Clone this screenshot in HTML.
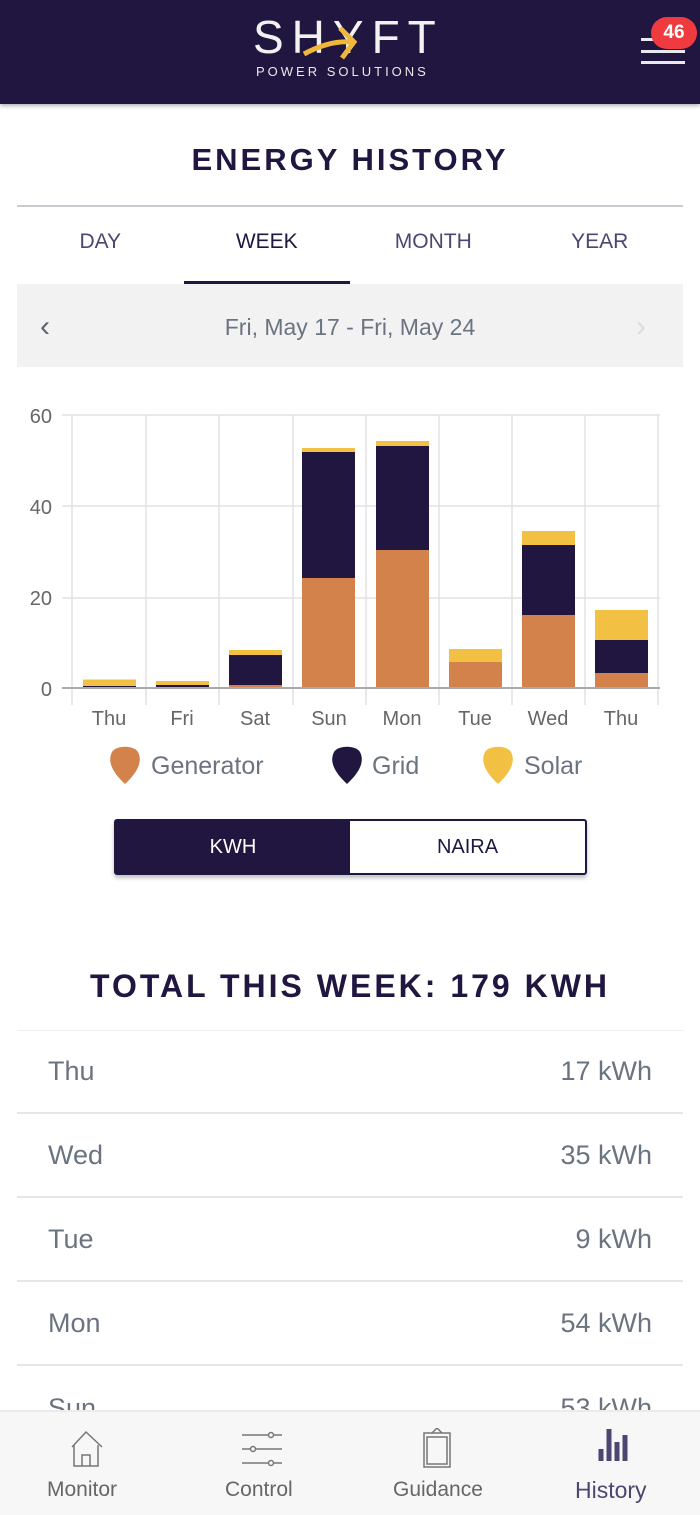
<!DOCTYPE html>
<html><head><meta charset="utf-8"><style>
*{margin:0;padding:0;box-sizing:border-box}
body{width:700px;height:1515px;overflow:hidden;background:#fff;font-family:"Liberation Sans",sans-serif;position:relative;color:#201640}
.abs{position:absolute}
</style></head><body>
<div class="abs" style="left:0;top:0;width:700px;height:104px;background:#201640;box-shadow:0 2px 4px rgba(0,0,0,.3)"></div>
<div class="abs" style="left:253px;top:14px;font-size:46px;color:#f2f2f2;letter-spacing:8px;line-height:46px">SHYFT</div>
<svg class="abs" style="left:300px;top:22px" width="60" height="40"><path d="M4 32 Q30 18 52 20" stroke="#f0b73a" stroke-width="5" fill="none"/><path d="M40 6 L54 20 L42 36" stroke="#f0b73a" stroke-width="5" fill="none"/></svg>
<div class="abs" style="left:256px;top:64px;font-size:13px;color:#e8e8e8;letter-spacing:3px">POWER SOLUTIONS</div>
<div class="abs" style="left:641px;top:38px;width:44px;height:3px;background:#e8e8f0"></div>
<div class="abs" style="left:641px;top:50px;width:44px;height:3px;background:#e8e8f0"></div>
<div class="abs" style="left:641px;top:61px;width:44px;height:3px;background:#e8e8f0"></div>
<div class="abs" style="left:651px;top:17px;width:46px;height:32px;border-radius:16px;background:#ef3b3f;color:#fff;font-size:19px;font-weight:bold;text-align:center;line-height:32px">46</div>

<div class="abs" style="left:0;top:142px;width:700px;text-align:center;font-size:31px;font-weight:bold;letter-spacing:3px">ENERGY HISTORY</div>
<div class="abs" style="left:17px;top:205px;width:666px;height:2px;background:#c8cbcf"></div>
<div class="abs" style="top:230px;left:17px;width:666px;display:flex;font-size:21px;color:#4a4870">
<div style="flex:1;text-align:center">DAY</div><div style="flex:1;text-align:center;color:#201640">WEEK</div><div style="flex:1;text-align:center">MONTH</div><div style="flex:1;text-align:center">YEAR</div></div>
<div class="abs" style="left:184px;top:281px;width:166px;height:3px;background:#201640"></div>
<div class="abs" style="left:17px;top:284px;width:666px;height:83px;background:#f2f2f2"></div>
<div class="abs" style="left:40px;top:310px;font-size:30px;color:#5a6470">&#8249;</div>
<div class="abs" style="left:636px;top:310px;font-size:30px;color:#dcdcdc">&#8250;</div>
<div class="abs" style="left:0;top:314px;width:700px;text-align:center;font-size:23px;color:#6a7480">Fri, May 17 - Fri, May 24</div>

<svg class="abs" style="left:0;top:400px" width="700" height="340">
<g stroke="#e2e2e2" stroke-width="1.5">
<line x1="62" y1="15" x2="660" y2="15"/><line x1="62" y1="106" x2="660" y2="106"/><line x1="62" y1="198" x2="660" y2="198"/>
<line x1="72" y1="15" x2="72" y2="305"/><line x1="146" y1="15" x2="146" y2="305"/><line x1="219" y1="15" x2="219" y2="305"/><line x1="293" y1="15" x2="293" y2="305"/><line x1="366" y1="15" x2="366" y2="305"/><line x1="439" y1="15" x2="439" y2="305"/><line x1="512" y1="15" x2="512" y2="305"/><line x1="585" y1="15" x2="585" y2="305"/><line x1="658" y1="15" x2="658" y2="305"/>
</g>
<g font-size="20" fill="#666" text-anchor="end"><text x="52" y="23">60</text><text x="52" y="114">40</text><text x="52" y="205">20</text><text x="52" y="296">0</text></g>
<g>
<rect x="83" y="279.5" width="53" height="7" fill="#f2c144"/><rect x="83" y="286" width="53" height="2" fill="#201640"/>
<rect x="156" y="281" width="53" height="4" fill="#f2c144"/><rect x="156" y="285" width="53" height="3" fill="#201640"/>
<rect x="229" y="250" width="53" height="5" fill="#f2c144"/><rect x="229" y="255" width="53" height="30" fill="#201640"/><rect x="229" y="285" width="53" height="3" fill="#d2824a"/>
<rect x="302" y="448" width="0" height="0"/>
<rect x="302" y="48" width="53" height="4" fill="#f2c144"/><rect x="302" y="52" width="53" height="126" fill="#201640"/><rect x="302" y="178" width="53" height="110" fill="#d2824a"/>
<rect x="376" y="41" width="53" height="5" fill="#f2c144"/><rect x="376" y="46" width="53" height="104" fill="#201640"/><rect x="376" y="150" width="53" height="138" fill="#d2824a"/>
<rect x="449" y="249" width="53" height="13" fill="#f2c144"/><rect x="449" y="262" width="53" height="26" fill="#d2824a"/>
<rect x="522" y="131" width="53" height="14" fill="#f2c144"/><rect x="522" y="145" width="53" height="70" fill="#201640"/><rect x="522" y="215" width="53" height="73" fill="#d2824a"/>
<rect x="595" y="210" width="53" height="30" fill="#f2c144"/><rect x="595" y="240" width="53" height="33" fill="#201640"/><rect x="595" y="273" width="53" height="15" fill="#d2824a"/>
</g>
<line x1="62" y1="288" x2="660" y2="288" stroke="#aaa" stroke-width="2"/>
<g font-size="20" fill="#666" text-anchor="middle"><text x="109" y="325">Thu</text><text x="182" y="325">Fri</text><text x="255" y="325">Sat</text><text x="329" y="325">Sun</text><text x="402" y="325">Mon</text><text x="475" y="325">Tue</text><text x="548" y="325">Wed</text><text x="621" y="325">Thu</text></g>
</svg>

<svg class="abs" style="left:0;top:742px" width="700" height="50">
<path d="M125 42 C110 28 108 18 112 10 C116 3 134 3 138 10 C142 18 140 28 125 42Z" fill="#d2824a"/>
<path d="M347 42 C332 28 330 18 334 10 C338 3 356 3 360 10 C364 18 362 28 347 42Z" fill="#201640"/>
<path d="M498 42 C483 28 481 18 485 10 C489 3 507 3 511 10 C515 18 513 28 498 42Z" fill="#f2c144"/>
</svg>
<div class="abs" style="left:151px;top:752px;font-size:25px;color:#6a7480">Generator</div>
<div class="abs" style="left:372px;top:752px;font-size:25px;color:#6a7480">Grid</div>
<div class="abs" style="left:524px;top:752px;font-size:25px;color:#6a7480">Solar</div>

<div class="abs" style="left:114px;top:819px;width:473px;height:56px;border:2px solid #201640;border-radius:3px;display:flex;box-shadow:0 3px 4px rgba(0,0,0,.25);font-size:20px">
<div style="width:234px;background:#201640;color:#fff;text-align:center;line-height:52px">KWH</div>
<div style="flex:1;text-align:center;line-height:52px;color:#201640">NAIRA</div></div>

<div class="abs" style="left:0;top:968px;width:700px;text-align:center;font-size:32px;font-weight:bold;letter-spacing:3px">TOTAL THIS WEEK: 179 KWH</div>
<div class="abs" style="left:17px;top:1030px;width:666px;font-size:27px;color:#6a7480">
<div style="height:84px;border-top:1px solid #f0f0f0;border-bottom:2px solid #e6e6e6;display:flex;justify-content:space-between;align-items:center;padding:0 31px"><span>Thu</span><span>17 kWh</span></div>
<div style="height:84px;border-bottom:2px solid #e6e6e6;display:flex;justify-content:space-between;align-items:center;padding:0 31px"><span>Wed</span><span>35 kWh</span></div>
<div style="height:84px;border-bottom:2px solid #e6e6e6;display:flex;justify-content:space-between;align-items:center;padding:0 31px"><span>Tue</span><span>9 kWh</span></div>
<div style="height:84px;border-bottom:2px solid #e6e6e6;display:flex;justify-content:space-between;align-items:center;padding:0 31px"><span>Mon</span><span>54 kWh</span></div>
<div style="height:84px;display:flex;justify-content:space-between;align-items:center;padding:0 31px"><span>Sun</span><span>53 kWh</span></div>
</div>

<div class="abs" style="left:0;top:1410px;width:700px;height:105px;background:#f7f7f7;border-top:2px solid #ebebeb"></div>
<svg class="abs" style="left:0;top:1428px" width="700" height="45" fill="none" stroke="#777" stroke-width="1.5">
<path d="M72 19 L86 4 L102 19 M74 17 V38 H98 V17 M82 38 V27 H90 V38"/>
<path d="M242 7 H268 M274 7 H282 M242 21 H250 M256 21 H282 M242 35 H268 M274 35 H282"/><circle cx="271" cy="7" r="2.5"/><circle cx="253" cy="21" r="2.5"/><circle cx="271" cy="35" r="2.5"/>
<rect x="424" y="5" width="26" height="34"/><rect x="427" y="9" width="20" height="27"/><path d="M432 5 L437 0 L442 5"/>
<g stroke="#4e4570" stroke-width="5"><line x1="601" y1="33" x2="601" y2="21"/><line x1="609" y1="33" x2="609" y2="1"/><line x1="617" y1="33" x2="617" y2="14"/><line x1="625" y1="33" x2="625" y2="7"/></g>
</svg>
<div class="abs" style="top:1478px;left:0;width:700px;font-size:21px;color:#666">
<span class="abs" style="left:47px">Monitor</span><span class="abs" style="left:225px">Control</span><span class="abs" style="left:393px">Guidance</span><span class="abs" style="left:575px;color:#4e4570;font-size:23px;top:-1px">History</span></div>
</body></html>
